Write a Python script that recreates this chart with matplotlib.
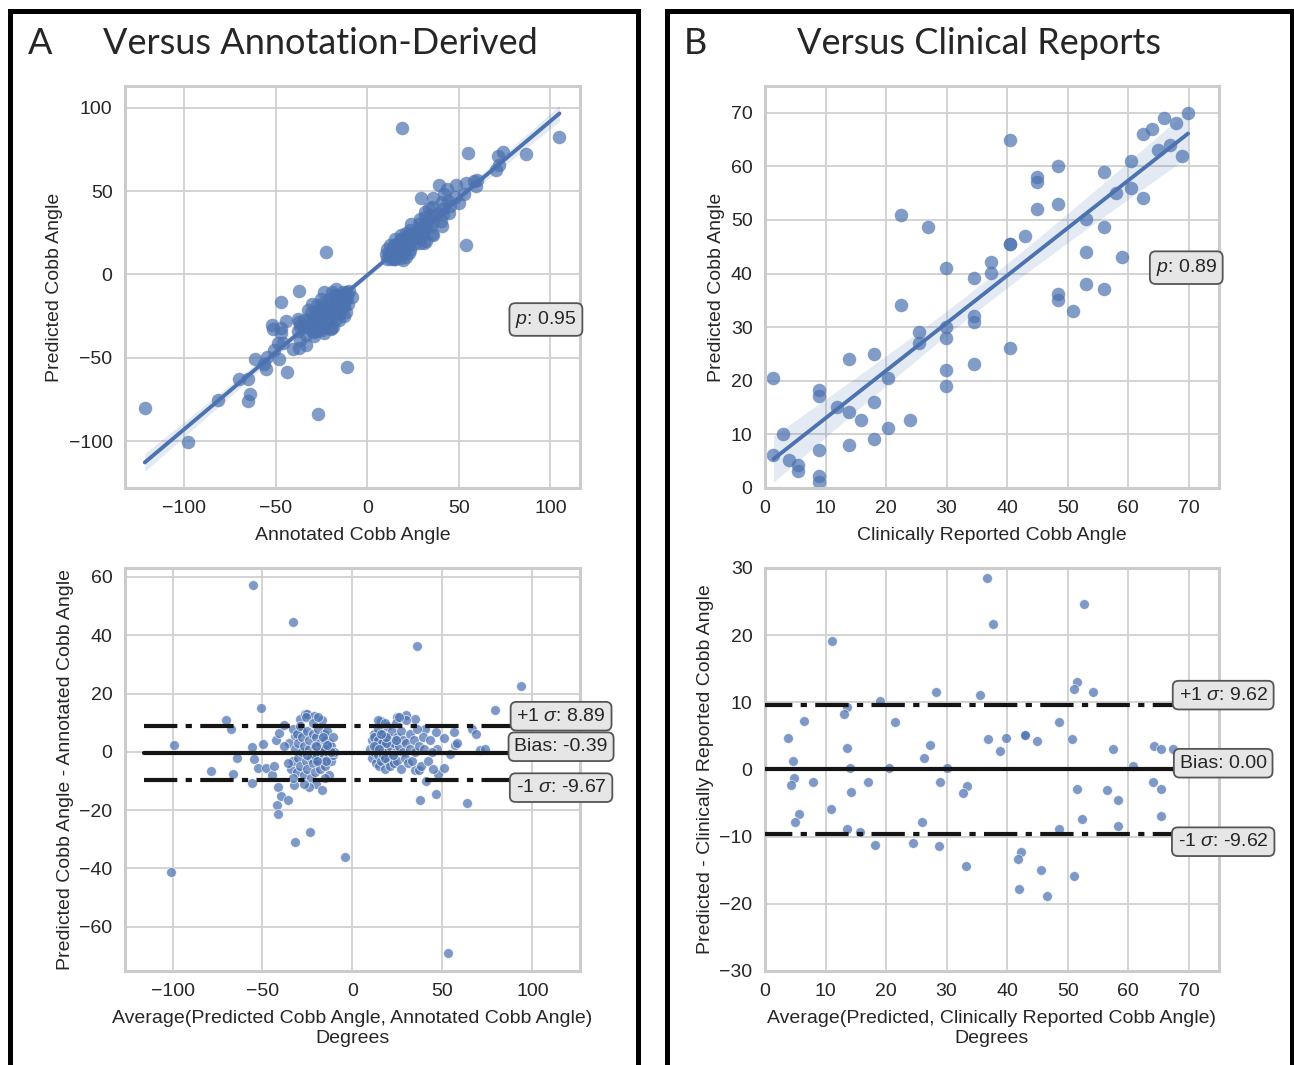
import numpy as np
import matplotlib
matplotlib.use("Agg")
import matplotlib.pyplot as plt
from matplotlib.patches import Rectangle
import seaborn as sns

# panel A: annotation-derived Cobb angle vs model prediction
annotated_a = [
    -121.5, -98.0, -81.7, -65.0, -63.8, -70.2, -65.1, -55.2, -56.2, -61.4, -26.7, -55.0,
    -43.6, -48.1, -50.9, -48.9, -46.0, -40.5, -47.3, -51.3, -51.9, -37.4, -47.0, -33.4,
    -44.4, -10.9, -38.1, -29.2, -47.1, -23.4, -24.7, -19.9, -18.5, -37.5, -15.2, -22.4,
    21.3, 30.7, 36.1, 40.6, 31.4, 33.6, 54.0, 29.5, 44.4, 35.8, 39.4, 49.9, 47.7, 43.7,
    52.9, 48.2, 18.7, 54.0, 59.6, 58.4, 59.9, 55.0, 70.4, 71.7, 71.3, 74.3, 86.5, 104.9,
    -33.5, -37.0, -29.0, -34.5, -31.5, -28.0, -34.5, -28.5, -31.0, -24.5, -31.5, -28.0,
    -25.5, -31.0, -26.0, -20.0, -27.5, -21.5, -28.0, -23.5, -22.0, -27.5, -24.0, -17.0,
    -19.0, -24.0, -20.0, -24.5, -20.0, -17.5, -25.5, -15.0, -20.5, -16.5, -21.0, -16.5,
    -11.5, -23.5, -13.0, -17.0, -13.0, -17.5, -14.0, -10.5, -17.0, -11.5, -13.5, -11.0,
    -11.5, -8.5, -10.0, -30.0, -38.0, -37.0, -13.0, -19.5, -32.5, -37.5, -18.0, -15.0,
    -12.0, -22.0, -19.0, -14.0, -16.0, -26.0, -21.0, -13.0,
    10.5, 10.0, 13.0, 12.0, 15.0, 11.0, 14.0, 18.0, 13.5, 17.0, 12.5, 16.5, 14.5, 20.0,
    16.5, 19.5, 15.0, 19.0, 23.5, 18.5, 22.5, 22.0, 18.5, 25.5, 21.5, 24.5, 21.0, 24.0,
    29.0, 27.5, 23.5, 27.0, 24.0, 30.5, 28.0, 30.0, 28.0, 35.5, 31.5, 29.0, 35.0, 32.5,
    31.5, 36.0, 35.0, 40.0, 38.0, 35.5, 41.5, 40.5, 40.5, 45.0, 44.0, 42.0, 19.5, 32.0,
    23.0, 14.5, 16.0, 18.0, 20.0, 13.0, 17.0, 21.0, 15.0, 19.0, 22.0, 26.0,
]
predicted_a = [
    -80.1, -100.3, -75.0, -75.9, -71.5, -62.5, -62.9, -56.8, -53.8, -50.6, -83.9, -49.5,
    -58.6, -50.9, -45.4, -40.9, -41.3, -44.5, -35.1, -32.9, -30.5, -44.0, -32.0, -42.5,
    -27.8, -55.3, -26.7, -34.6, -16.3, -34.8, -31.8, -32.9, -31.6, -10.1, -27.5, 13.6,
    10.7, 18.7, 23.6, 29.2, 37.7, 40.0, 17.7, 45.9, 36.7, 45.7, 53.7, 43.1, 46.7, 51.2,
    48.3, 53.7, 87.7, 54.6, 52.8, 55.9, 56.8, 72.6, 62.5, 65.7, 70.8, 73.3, 72.2, 82.3,
    -36.5, -31.0, -37.0, -31.5, -32.5, -34.0, -27.5, -31.5, -29.0, -33.5, -26.5, -28.0,
    -30.5, -23.0, -28.0, -32.0, -24.5, -28.5, -22.0, -24.5, -26.0, -18.5, -22.0, -27.0,
    -25.0, -20.0, -22.0, -17.5, -20.0, -22.5, -14.5, -23.0, -17.5, -19.5, -15.0, -17.5,
    -22.5, -10.5, -19.0, -15.0, -17.0, -12.5, -14.0, -17.5, -9.0, -14.5, -10.5, -13.0,
    -10.5, -13.5, -10.0, -18.0, -34.0, -39.0, -25.0, -10.5, -21.5, -28.5, -18.0, -16.0,
    -12.0, -21.0, -21.0, -19.0, -13.0, -25.0, -18.0, -15.5,
    9.5, 12.0, 9.0, 12.0, 9.0, 15.0, 12.0, 10.0, 14.5, 13.0, 17.5, 15.5, 17.5, 14.0,
    17.5, 16.5, 21.0, 19.0, 14.5, 21.5, 17.5, 20.0, 23.5, 18.5, 22.5, 21.5, 25.0, 24.0,
    19.0, 22.5, 26.5, 25.0, 30.0, 23.5, 28.0, 26.0, 30.0, 24.5, 28.5, 33.0, 29.0, 31.5,
    34.5, 32.0, 35.0, 32.0, 36.0, 40.5, 36.5, 39.5, 43.5, 41.0, 44.0, 48.0, 8.5, 20.0,
    13.0, 9.5, 12.0, 15.0, 17.0, 11.0, 19.0, 16.0, 14.0, 13.0, 23.0, 22.0,
]
rho_a = 0.95
bias_a, upper_a, lower_a = -0.39, 8.89, -9.67

# panel B: clinically reported Cobb angle vs model prediction
clinical_b = [
    1.4, 1.4, 2.9, 3.9, 5.4, 5.4, 8.9, 8.9, 8.9, 8.9, 8.9, 11.9, 13.9, 13.9, 13.9, 15.9,
    18.0, 18.0, 18.0, 20.4, 20.4, 22.5, 22.5, 23.9, 25.4, 25.4, 26.9, 29.9, 29.9, 29.9,
    29.9, 29.9, 34.5, 34.5, 34.5, 34.5, 37.4, 37.4, 40.4, 40.4, 40.4, 40.4, 42.9, 45.0,
    45.0, 45.0, 48.4, 48.4, 48.4, 48.4, 50.9, 53.0, 53.0, 53.0, 56.0, 56.0, 56.0, 58.0,
    59.0, 60.5, 60.5, 62.5, 62.5, 63.9, 65.0, 65.9, 66.9, 67.9, 68.9, 69.9,
]
predicted_b = [
    20.6, 6.1, 10.1, 5.2, 4.2, 3.1, 18.2, 17.1, 7.1, 2.2, 1.1, 15.1, 24.1, 14.1, 8.0, 12.6,
    25.0, 16.1, 9.1, 20.6, 11.1, 51.0, 34.1, 12.6, 29.1, 27.1, 48.6, 41.0, 30.1, 28.0,
    22.1, 19.0, 39.1, 32.1, 31.0, 23.1, 42.1, 40.1, 65.0, 45.6, 45.6, 26.1, 47.1, 58.0,
    57.0, 52.0, 60.0, 53.0, 36.1, 35.1, 33.1, 50.1, 44.1, 38.1, 59.0, 48.6, 37.1, 55.0,
    43.1, 61.0, 56.0, 66.0, 54.1, 67.0, 63.1, 69.0, 64.0, 68.0, 62.0, 70.0,
]
rho_b = 0.89
bias_b, upper_b, lower_b = 0.00, 9.62, -9.62

BLUE = "#4C72B0"
BOX = dict(boxstyle="round,pad=0.3", fc="#e6e6e6", ec="#555555", lw=1.3)

sns.set_style("whitegrid")
plt.rcParams["font.family"] = ["Liberation Sans", "DejaVu Sans"]
plt.rcParams["mathtext.fontset"] = "custom"
plt.rcParams["mathtext.it"] = "Liberation Sans:italic"
plt.rcParams["mathtext.rm"] = "Liberation Sans"


def style(ax, xlim, ylim, xticks, yticks):
    ax.set_xlim(*xlim)
    ax.set_ylim(*ylim)
    ax.set_xticks(xticks)
    ax.set_yticks(yticks)
    ax.tick_params(labelsize=14, pad=9, length=0)
    ax.grid(color="#d0d0d0", lw=1.3)
    for sp in ax.spines.values():
        sp.set_color("#cccccc")
        sp.set_linewidth(2.2)


def reg_panel(ax, x, y, rho, rho_xy):
    x, y = np.asarray(x), np.asarray(y)
    slope, icpt = np.polyfit(x, y, 1)
    xs = np.linspace(x.min(), x.max(), 100)
    fit = icpt + slope * xs
    resid = y - (icpt + slope * x)
    s = np.sqrt((resid ** 2).sum() / (len(x) - 2))
    se = s * np.sqrt(1 / len(x) + (xs - x.mean()) ** 2 / ((x - x.mean()) ** 2).sum())
    ax.scatter(x, y, s=95, color=BLUE, alpha=0.7, lw=0, zorder=2)
    ax.fill_between(xs, fit - 1.97 * se, fit + 1.97 * se, color=BLUE, alpha=0.15, lw=0, zorder=2)
    ax.plot(xs, fit, color=BLUE, lw=2.8, zorder=3)
    ax.text(*rho_xy, rf"$p$: {rho:.2f}", fontsize=14, ha="center", va="center", bbox=BOX, zorder=5)


def ba_panel(ax, mean, diff, bias, upper, lower, x0, xbox):
    ax.scatter(mean, diff, s=50, color=BLUE, alpha=0.72, edgecolor="white", lw=0.6, zorder=2)
    for val, ls, lab, off in [(upper, (0, (8, 2, 1.5, 2)), rf"+1 $\sigma$: {upper:.2f}", 7),
                              (bias, "-", f"Bias: {bias:.2f}", 4.5),
                              (lower, (0, (8, 2, 1.5, 2)), rf"-1 $\sigma$: {lower:.2f}", -5.5)]:
        ax.plot([x0, xbox], [val, val], color="#151515", lw=3, ls=ls, zorder=3)
        ax.annotate(lab, xy=(xbox, val), xytext=(0, off), textcoords="offset points",
                    ha="center", va="center", fontsize=14, bbox=BOX, zorder=5,
                    annotation_clip=False)


fig = plt.figure(figsize=(12.94, 10.65), dpi=100)
ax_a1 = fig.add_axes([0.0966, 0.5418, 0.3516, 0.3775])
ax_a2 = fig.add_axes([0.0966, 0.0883, 0.3516, 0.3784])
ax_b1 = fig.add_axes([0.5912, 0.5418, 0.3508, 0.3775])
ax_b2 = fig.add_axes([0.5912, 0.0883, 0.3508, 0.3784])

ann = np.asarray(annotated_a)
pra = np.asarray(predicted_a)
cli = np.asarray(clinical_b)
prb = np.asarray(predicted_b)

reg_panel(ax_a1, ann, pra, rho_a, (97.5, -27))
style(ax_a1, (-132.3, 116.1), (-128, 113), [-100, -50, 0, 50, 100], [-100, -50, 0, 50, 100])
ax_a1.set_xlabel("Annotated Cobb Angle", fontsize=14, labelpad=7)
ax_a1.set_ylabel("Predicted Cobb Angle", fontsize=14)

# the reference difference axis for A is annotated minus predicted
ba_panel(ax_a2, (ann + pra) / 2, ann - pra, bias_a, upper_a, lower_a, -116, 115.9)
style(ax_a2, (-126.4, 126.4), (-75.2, 63.1), [-100, -50, 0, 50, 100], [-60, -40, -20, 0, 20, 40, 60])
ax_a2.set_xlabel("Average(Predicted Cobb Angle, Annotated Cobb Angle)\nDegrees", fontsize=14,
                 linespacing=1.25, labelpad=7)
ax_a2.set_ylabel("Predicted Cobb Angle - Annotated Cobb Angle", fontsize=14)

reg_panel(ax_b1, cli, prb, rho_b, (69.6, 41.1))
style(ax_b1, (0, 75), (0, 75), range(0, 71, 10), range(0, 71, 10))
ax_b1.set_xlabel("Clinically Reported Cobb Angle", fontsize=14, labelpad=7)
ax_b1.set_ylabel("Predicted Cobb Angle", fontsize=14)

ba_panel(ax_b2, (cli + prb) / 2, prb - cli, bias_b, upper_b, lower_b, -1, 75.7)
style(ax_b2, (0, 75), (-30, 30), range(0, 71, 10), range(-30, 31, 10))
ax_b2.set_xlabel("Average(Predicted, Clinically Reported Cobb Angle)\nDegrees", fontsize=14,
                 linespacing=1.25, labelpad=7)
ax_b2.set_ylabel("Predicted - Clinically Reported Cobb Angle", fontsize=14)

# panel frames, open at the bottom edge of the image
W, H = 1294, 1065
for left, right in [(10, 638), (667, 1292)]:
    fig.add_artist(Rectangle((left / W, -0.1), (right - left) / W, 1.1 - 10.5 / H,
                             transform=fig.transFigure, fill=False, ec="black", lw=3.6,
                             clip_on=False))

title_kw = dict(family="Lato", fontsize=26, va="center")
fig.text(40 / W, 1 - 44 / H, "A", ha="center", **title_kw)
fig.text(320 / W, 1 - 44 / H, "Versus Annotation-Derived", ha="center", **title_kw)
fig.text(695 / W, 1 - 44 / H, "B", ha="center", **title_kw)
fig.text(979 / W, 1 - 44 / H, "Versus Clinical Reports", ha="center", **title_kw)

fig.savefig("out.png", dpi=100)
